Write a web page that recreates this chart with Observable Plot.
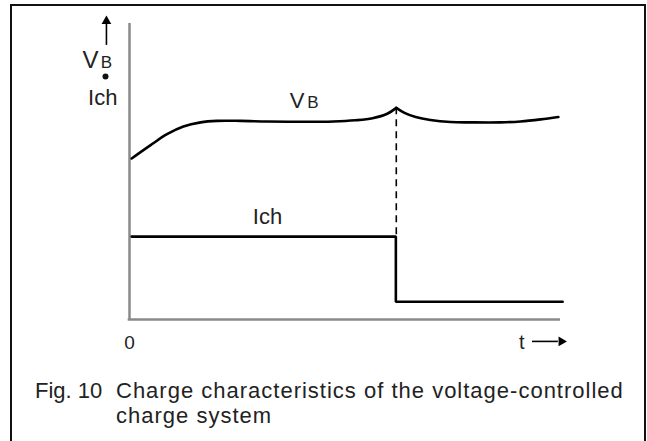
<!DOCTYPE html>
<html>
<head>
<meta charset="utf-8">
<script src="https://cdn.jsdelivr.net/npm/d3@7"></script>
<script src="https://cdn.jsdelivr.net/npm/@observablehq/plot@0.6"></script>
<style>
  html, body { margin: 0; padding: 0; background: #fff; }
  body { position: relative; width: 647px; height: 441px; overflow: hidden; font-family: "Liberation Sans", Arial, sans-serif; }
  #box { position: absolute; left: 10px; top: 4px; width: 632px; height: 450px; border: 2px solid #111; border-bottom: none; }
  #chart { position: absolute; left: 0; top: 0; }
  #chart svg { display: block; }
  #cap { position: absolute; left: 35px; top: 378px; display: grid; grid-template-columns: 81px auto; font-size: 22px; line-height: 25px; color: #222; }
  #cap .txt { letter-spacing: 1px; }
</style>
</head>
<body>
<div id="box"></div>
<div id="chart"></div>
<div id="cap"><span>Fig. 10</span><span class="txt">Charge characteristics of the voltage-controlled<br>charge system</span></div>
<script>
// Battery voltage V_B (segment 1: before cut-over, segment 2: after)
const vbTime = [0.5, 4.9, 8.7, 12.5, 16.5, 20.3, 25.8, 31.9, 39.7, 47.3, 52.4, 56.4, 59.8, 61.9,
                61.9, 63.8, 66.4, 69.8, 74.5, 79.1, 86.1, 90.7, 95.4, 99.5];
const vbValue = [54.4, 58.9, 62.6, 65.2, 66.6, 67.1, 67.1, 66.9, 66.8, 66.9, 67.3, 68.0, 69.5, 71.5,
                 71.5, 69.8, 68.4, 67.4, 66.7, 66.6, 66.6, 66.9, 67.6, 68.4];
const vbSegment = [1,1,1,1,1,1,1,1,1,1,1,1,1,1, 2,2,2,2,2,2,2,2,2,2];

// Charge current I_ch
const ichTime = [0.5, 61.8, 61.8, 100.5];
const ichValue = [28, 28, 6, 6];

// Cut-over instant (dashed marker)
const cutTime = [61.9];
const cutFrom = [71.5];
const cutTo = [28];

const vb = vbTime.map((t, i) => ({t, v: vbValue[i], s: vbSegment[i]}));
const ich = ichTime.map((t, i) => ({t, v: ichValue[i]}));

const font = "'Liberation Sans', Arial, sans-serif";
const ink = "#222";

const chart = Plot.plot({
  width: 647,
  height: 370,
  marginLeft: 129,
  marginRight: 87,
  marginTop: 23,
  marginBottom: 51,
  x: {domain: [0, 100], axis: null},
  y: {domain: [0, 100], axis: null},
  style: {fontFamily: font, background: "transparent", overflow: "visible"},
  marks: [
    // axes
    Plot.ruleX([0], {y1: 0, y2: 100, stroke: "#8a8a8a", strokeWidth: 2.5}),
    Plot.ruleY([0], {x1: -0.3, x2: 100, stroke: "#8a8a8a", strokeWidth: 2.5}),
    // dashed cut-over line
    Plot.ruleX(cutTime, {y1: () => cutFrom[0], y2: () => cutTo[0], stroke: "#000", strokeWidth: 1.6, strokeDasharray: "7,5"}),
    // curves
    Plot.line(vb, {x: "t", y: "v", z: "s", curve: "catmull-rom", stroke: "#000", strokeWidth: 2.6}),
    Plot.line(ich, {x: "t", y: "v", stroke: "#000", strokeWidth: 2.6, strokeLinejoin: "miter"}),
    // curve labels
    Plot.text(["V"], {x: 37.2, y: 71.6, textAnchor: "start", lineAnchor: "bottom", fontSize: 22, fill: ink}),
    Plot.text(["B"], {x: 41.0, y: 71.6, textAnchor: "start", lineAnchor: "bottom", fontSize: 17, fill: ink, dx: 1}),
    Plot.text(["Ich"], {x: 28.6, y: 32.4, textAnchor: "start", lineAnchor: "bottom", fontSize: 22, fill: ink, style: {letterSpacing: "0.8px"}}),
    // y-axis label with arrow
    Plot.ruleX([-5.35], {y1: 92.6, y2: 100.5, stroke: "#000", strokeWidth: 1.6}),
    Plot.dot([0], {x: -5.35, y: 100.8, symbol: "triangle", r: 3.6, fill: "#000", stroke: null}),
    Plot.text(["V"], {x: -10.9, y: 85.1, textAnchor: "start", lineAnchor: "bottom", fontSize: 24, fill: ink}),
    Plot.text(["B"], {x: -6.9, y: 85.1, textAnchor: "start", lineAnchor: "bottom", fontSize: 17, fill: ink, dx: 1}),
    Plot.dot([0], {x: -5.57, y: 82.1, r: 3, fill: "#111", stroke: null}),
    Plot.text(["Ich"], {x: -9.6, y: 72.3, textAnchor: "start", lineAnchor: "bottom", fontSize: 22, fill: ink, style: {letterSpacing: "0.8px"}}),
    // x-axis labels
    Plot.text(["0"], {x: 0, y: 0, dy: 29, textAnchor: "middle", lineAnchor: "bottom", fontSize: 19, fill: ink}),
    Plot.text(["t"], {x: 91, y: 0, dy: 29, textAnchor: "middle", lineAnchor: "bottom", fontSize: 20, fill: ink}),
    Plot.ruleY([-7.4], {x1: 93.5, x2: 99.5, stroke: "#000", strokeWidth: 1.6}),
    Plot.dot([0], {x: 100.2, y: -7.4, symbol: "triangle", rotate: 90, r: 3.6, fill: "#000", stroke: null})
  ]
});
document.getElementById("chart").appendChild(chart);
</script>
</body>
</html>
